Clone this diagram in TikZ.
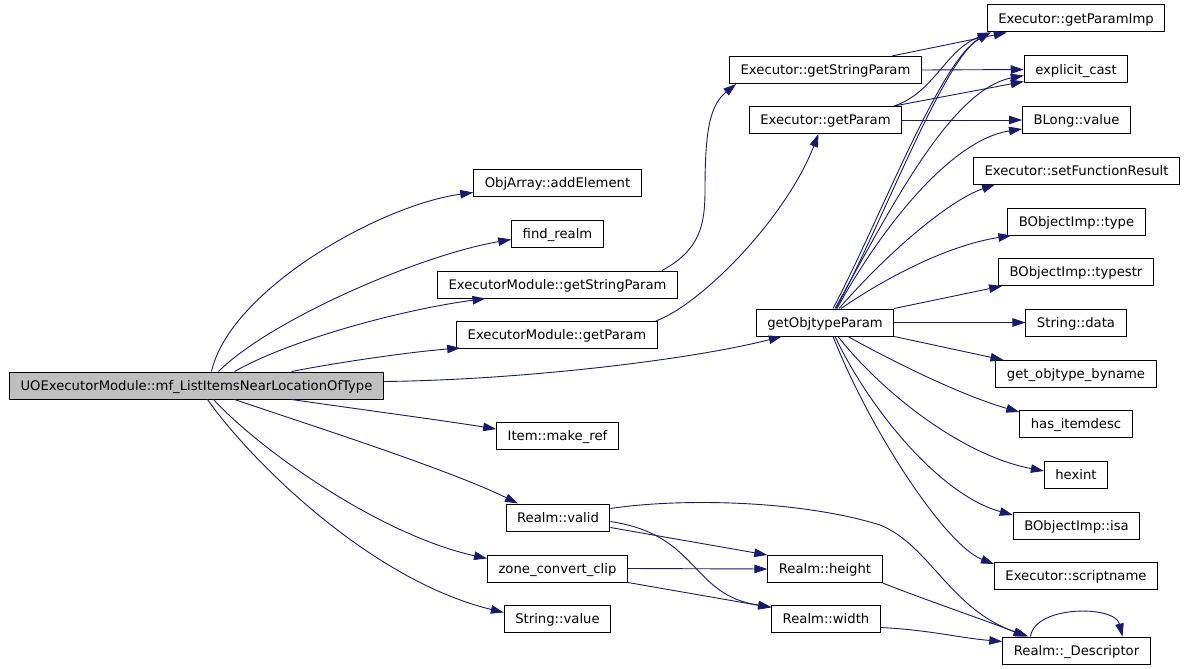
\documentclass[tikz,border=0pt]{standalone}
\usepackage{fontspec}
\setmainfont{DejaVu Sans}
\usetikzlibrary{arrows.meta}

\begin{document}
\begin{tikzpicture}[x=1pt,y=-1pt,
  fn/.style={draw=black,line width=1pt,fill=white,inner xsep=11pt,inner ysep=0pt,
    minimum height=27pt,text height=9.6pt,text depth=0pt,font=\fontsize{13.2}{15}\selectfont},
  fnroot/.style={fn,fill=rootFill},
  call/.style={draw=edgeColor,line width=0.9pt,-{Triangle[length=13pt,width=8.5pt]}}]
\definecolor{edgeColor}{RGB}{25,25,112}
\definecolor{rootFill}{gray}{0.75}
\path[use as bounding box,fill=white] (0,0) rectangle (1187,669);

\node[fnroot] (uoList) at (196.5,385.5) {UOExecutorModule::mf\_ListItemsNearLocationOfType};

\node[fn] (objArrayAdd) at (557.5,182.5) {ObjArray::addElement};
\node[fn] (findRealm) at (557.5,233.5) {find\_realm};
\node[fn] (emStringParam) at (557.5,284.5) {ExecutorModule::getStringParam};
\node[fn] (emParam) at (557,335) {ExecutorModule::getParam};
\node[fn] (makeRef) at (557.5,436) {Item::make\_ref};
\node[fn] (realmValid) at (558,517.5) {Realm::valid};
\node[fn] (zoneClip) at (557.5,568.5) {zone\_convert\_clip};
\node[fn] (stringValue) at (557.5,618.5) {String::value};

\node[fn] (exStringParam) at (825.5,70) {Executor::getStringParam};
\node[fn] (exParam) at (825.5,120) {Executor::getParam};
\node[fn] (objtypeParam) at (825,322.5) {getObjtypeParam};
\node[fn] (realmHeight) at (825,569) {Realm::height};
\node[fn] (realmWidth) at (826,618.5) {Realm::width};

\node[fn] (paramImp) at (1076,18.5) {Executor::getParamImp};
\node[fn] (explicitCast) at (1076,69.5) {explicit\_cast};
\node[fn] (blongValue) at (1076.5,120) {BLong::value};
\node[fn] (setResult) at (1076.5,170.5) {Executor::setFunctionResult};
\node[fn] (bobjType) at (1076.5,221.5) {BObjectImp::type};
\node[fn] (bobjTypestr) at (1076,272) {BObjectImp::typestr};
\node[fn] (stringData) at (1076,322.5) {String::data};
\node[fn] (objtypeByname) at (1076,374) {get\_objtype\_byname};
\node[fn] (hasItemdesc) at (1076,424) {has\_itemdesc};
\node[fn] (hexint) at (1076,475) {hexint};
\node[fn] (bobjIsa) at (1076.5,526) {BObjectImp::isa};
\node[fn] (scriptname) at (1076,576) {Executor::scriptname};
\node[fn] (descriptor) at (1076.5,650.5) {Realm::\_Descriptor};

\draw[call] ([xshift=15]uoList.north) .. controls (230,290) and (380,205) .. ([yshift=4]objArrayAdd.south west);
\draw[call] ([xshift=22]uoList.north) .. controls (270,320) and (420,255) .. ([yshift=-6]findRealm.west);
\draw[call] ([xshift=38]uoList.north) .. controls (290,340) and (400,310) .. ([xshift=-72]emStringParam.south);
\draw[call] ([xshift=95]uoList.north) .. controls (340,362) and (410,352) .. ([xshift=4,yshift=1]emParam.south west);
\draw[call] ([yshift=4]uoList.east) .. controls (520,380) and (690,360) .. ([xshift=26]objtypeParam.south west);
\draw[call] ([xshift=95]uoList.south) .. controls (350,408) and (440,420) .. ([yshift=7]makeRef.west);
\draw[call] ([xshift=38]uoList.south) .. controls (310,425) and (450,470) .. ([xshift=-40]realmValid.north);
\draw[call] ([xshift=17]uoList.south) .. controls (260,450) and (380,535) .. ([yshift=10]zoneClip.west);
\draw[call] ([xshift=11]uoList.south) .. controls (250,460) and (370,580) .. ([yshift=6]stringValue.west);

\draw[call] ([xshift=-16]emStringParam.north east) .. controls (700,250) and (705,225) .. (705,190)
  .. controls (705,130) and (710,105) .. ([xshift=7]exStringParam.south west);
\draw[call] ([xshift=-2]emParam.north east) .. controls (700,305) and (785,220) .. ([xshift=-7]exParam.south);

\draw[call] ([xshift=-30]exStringParam.north east) -- ([xshift=20]paramImp.south west);
\draw[call] (exStringParam.east) -- (explicitCast.west);
\draw[call] ([xshift=-8]exParam.north east) .. controls (935,92) and (945,50) .. ([xshift=4]paramImp.south west);
\draw[call] ([xshift=-8]exParam.north east) -- ([yshift=-12]explicitCast.west);
\draw[call] (exParam.east) -- (blongValue.west);

\draw[call] ([xshift=8]objtypeParam.north) .. controls (880,220) and (940,60) .. ([xshift=4]paramImp.south west);
\draw[call] ([xshift=11]objtypeParam.north) .. controls (884,220) and (944,58) .. ([xshift=4]paramImp.south west);
\draw[call] ([xshift=10]objtypeParam.north) .. controls (890,210) and (950,90) .. ([yshift=-6]explicitCast.west);
\draw[call] ([xshift=12]objtypeParam.north) .. controls (880,230) and (950,140) .. ([yshift=-9]blongValue.west);
\draw[call] ([xshift=14]objtypeParam.north) .. controls (890,250) and (950,200) .. ([xshift=22]setResult.south west);
\draw[call] ([xshift=16]objtypeParam.north) .. controls (890,275) and (950,245) .. ([xshift=4]bobjType.south west);
\draw[call] (objtypeParam.north east) -- ([xshift=4]bobjTypestr.south west);
\draw[call] (objtypeParam.east) -- (stringData.west);
\draw[call] (objtypeParam.south east) -- ([xshift=8]objtypeByname.north west);
\draw[call] ([xshift=23]objtypeParam.south) .. controls (890,360) and (960,395) .. ([yshift=12]hasItemdesc.west);
\draw[call] ([xshift=13]objtypeParam.south) .. controls (880,390) and (960,455) .. ([yshift=4]hexint.west);
\draw[call] ([xshift=10]objtypeParam.south) .. controls (870,410) and (940,495) .. ([yshift=11]bobjIsa.west);
\draw[call] ([xshift=8]objtypeParam.south) .. controls (870,430) and (945,545) .. ([yshift=12]scriptname.west);

\draw[call] ([yshift=9]realmValid.east) .. controls (680,498) and (800,500) .. (880,525)
  .. controls (930,545) and (950,610) .. ([xshift=-48]descriptor.north);
\draw[call] ([yshift=-10]realmValid.east) -- (realmHeight.north west);
\draw[call] ([yshift=-4]realmValid.east) .. controls (700,535) and (690,595) .. ([yshift=-2.5]realmWidth.north west);
\draw[call] (zoneClip.east) -- (realmHeight.west);
\draw[call] (zoneClip.south east) -- ([yshift=-3]realmWidth.north west);
\draw[call] (realmHeight.south east) .. controls (920,598) and (990,622) .. ([xshift=-50]descriptor.north);
\draw[call] ([yshift=-9]realmWidth.east) .. controls (930,630) and (960,638) .. ([yshift=9]descriptor.west);
\draw[call] ([xshift=-46]descriptor.north) .. controls (1035,605) and (1115,605) .. ([xshift=46]descriptor.north);
\end{tikzpicture}
\end{document}
